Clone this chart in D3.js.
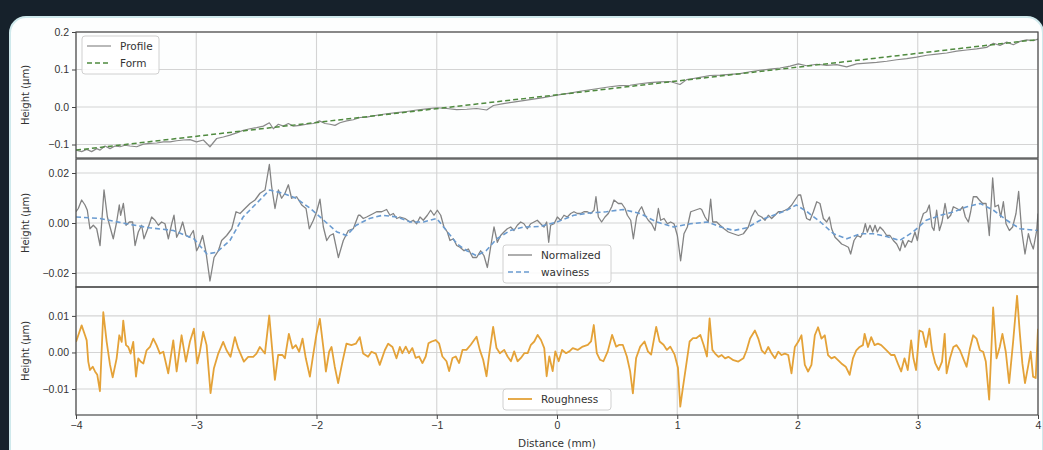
<!DOCTYPE html>
<html>
<head>
<meta charset="utf-8">
<script src="https://cdn.jsdelivr.net/npm/d3@7"></script>
<style>
  body { margin: 0; background: #16212b; }
  svg { display: block; font-family: "DejaVu Sans", sans-serif; }
</style>
</head>
<body>
<svg id="chart" width="1043" height="450"></svg>
<script>
// all points are [distance mm, height µm]

// Profile (top panel, grey)
const profile = [
  [-4.000, -0.115], [-3.953, -0.119], [-3.911, -0.113], [-3.870, -0.119], [-3.828, -0.111],
  [-3.800, -0.115], [-3.759, -0.104], [-3.717, -0.111], [-3.676, -0.104], [-3.634, -0.106],
  [-3.593, -0.102], [-3.551, -0.104], [-3.495, -0.106], [-3.440, -0.099], [-3.385, -0.097],
  [-3.329, -0.096], [-3.274, -0.093], [-3.218, -0.093], [-3.163, -0.090], [-3.107, -0.088],
  [-3.052, -0.087], [-2.997, -0.093], [-2.941, -0.088], [-2.886, -0.106], [-2.830, -0.084],
  [-2.775, -0.080], [-2.719, -0.075], [-2.664, -0.069], [-2.608, -0.062], [-2.553, -0.058],
  [-2.498, -0.055], [-2.442, -0.051], [-2.392, -0.042], [-2.359, -0.058], [-2.317, -0.046],
  [-2.276, -0.051], [-2.234, -0.044], [-2.193, -0.051], [-2.137, -0.049], [-2.082, -0.046],
  [-2.026, -0.044], [-1.976, -0.037], [-1.929, -0.044], [-1.888, -0.046], [-1.846, -0.049],
  [-1.805, -0.042], [-1.749, -0.037], [-1.694, -0.034], [-1.638, -0.028], [-1.583, -0.027],
  [-1.500, -0.022], [-1.417, -0.018], [-1.333, -0.015], [-1.250, -0.012], [-1.167, -0.008],
  [-1.084, -0.005], [-1.001, -0.002], [-0.918, -0.004], [-0.834, -0.007], [-0.751, -0.006],
  [-0.668, -0.004], [-0.585, -0.008], [-0.529, 0.004], [-0.446, 0.009], [-0.363, 0.013],
  [-0.280, 0.017], [-0.197, 0.021], [-0.114, 0.025], [-0.058, 0.028], [0.025, 0.033],
  [0.108, 0.037], [0.191, 0.042], [0.274, 0.046], [0.358, 0.050], [0.441, 0.054],
  [0.524, 0.057], [0.607, 0.058], [0.690, 0.062], [0.773, 0.065], [0.856, 0.067],
  [0.940, 0.068], [1.023, 0.060], [1.078, 0.073], [1.134, 0.076], [1.189, 0.079],
  [1.272, 0.084], [1.356, 0.085], [1.439, 0.087], [1.522, 0.089], [1.605, 0.094],
  [1.688, 0.098], [1.771, 0.101], [1.855, 0.104], [1.938, 0.109], [2.007, 0.115],
  [2.076, 0.110], [2.160, 0.114], [2.243, 0.111], [2.326, 0.113], [2.409, 0.107],
  [2.492, 0.115], [2.575, 0.117], [2.658, 0.119], [2.742, 0.122], [2.825, 0.126],
  [2.908, 0.129], [2.991, 0.133], [3.074, 0.138], [3.157, 0.141], [3.241, 0.144],
  [3.324, 0.149], [3.407, 0.152], [3.490, 0.155], [3.573, 0.159], [3.629, 0.170],
  [3.684, 0.164], [3.740, 0.173], [3.795, 0.166], [3.850, 0.175], [3.906, 0.179],
  [3.961, 0.177], [4.000, 0.181]
];

// Form (fitted straight line, dashed), its two ends
const formLine = [[-4, -0.115], [4, 0.180]];

// Normalized profile (middle panel, grey)
const normalized = [
  [-4.000, 0.0045], [-3.981, 0.0058], [-3.953, 0.0092], [-3.925, 0.0072], [-3.906, 0.0051],
  [-3.884, -0.0023], [-3.856, -0.0009], [-3.828, -0.0023], [-3.800, -0.0090], [-3.767, 0.0132],
  [-3.739, 0.0024], [-3.717, -0.0016], [-3.690, -0.0063], [-3.662, 0.0004], [-3.640, 0.0072],
  [-3.629, 0.0031], [-3.606, 0.0078], [-3.584, -0.0009], [-3.556, 0.0004], [-3.529, 0.0004],
  [-3.509, -0.0090], [-3.482, -0.0036], [-3.454, -0.0009], [-3.435, -0.0063], [-3.398, -0.0016],
  [-3.371, 0.0024], [-3.343, 0.0011], [-3.315, -0.0009], [-3.288, 0.0004], [-3.260, -0.0003],
  [-3.232, -0.0063], [-3.204, -0.0003], [-3.185, 0.0031], [-3.163, -0.0057], [-3.135, -0.0030],
  [-3.113, 0.0004], [-3.085, -0.0050], [-3.058, -0.0057], [-3.024, -0.0030], [-2.997, -0.0111],
  [-2.974, -0.0090], [-2.947, -0.0050], [-2.919, -0.0117], [-2.886, -0.0232], [-2.852, -0.0138],
  [-2.816, -0.0111], [-2.789, -0.0070], [-2.747, -0.0050], [-2.705, -0.0023], [-2.669, 0.0045],
  [-2.636, 0.0038], [-2.595, 0.0058], [-2.553, 0.0078], [-2.511, 0.0092], [-2.470, 0.0119],
  [-2.428, 0.0132], [-2.392, 0.0234], [-2.373, 0.0146], [-2.345, 0.0058], [-2.317, 0.0132],
  [-2.290, 0.0099], [-2.262, 0.0119], [-2.234, 0.0153], [-2.207, 0.0099], [-2.165, 0.0105],
  [-2.123, 0.0072], [-2.087, 0.0058], [-2.060, -0.0023], [-2.026, 0.0011], [-1.999, 0.0045],
  [-1.971, 0.0095], [-1.943, -0.0016], [-1.915, -0.0070], [-1.888, -0.0050], [-1.860, -0.0043],
  [-1.818, -0.0138], [-1.777, -0.0070], [-1.735, -0.0030], [-1.694, -0.0023], [-1.652, 0.0031],
  [-1.638, 0.0031], [-1.611, 0.0018], [-1.583, 0.0024], [-1.555, 0.0031], [-1.527, 0.0038],
  [-1.500, 0.0045], [-1.458, 0.0045], [-1.417, 0.0054], [-1.389, 0.0031], [-1.361, 0.0038],
  [-1.333, 0.0018], [-1.306, 0.0024], [-1.264, 0.0018], [-1.223, 0.0004], [-1.195, 0.0011],
  [-1.167, -0.0003], [-1.139, 0.0024], [-1.112, 0.0011], [-1.078, 0.0031], [-1.051, 0.0051],
  [-1.023, 0.0031], [-0.995, 0.0051], [-0.967, 0.0031], [-0.940, -0.0016], [-0.912, -0.0036],
  [-0.890, -0.0070], [-0.862, -0.0063], [-0.834, -0.0090], [-0.807, -0.0097], [-0.773, -0.0111],
  [-0.737, -0.0104], [-0.701, -0.0138], [-0.668, -0.0138], [-0.635, -0.0111], [-0.607, -0.0131],
  [-0.579, -0.0178], [-0.552, -0.0097], [-0.524, -0.0016], [-0.496, -0.0077], [-0.469, -0.0050],
  [-0.441, -0.0036], [-0.413, -0.0023], [-0.385, -0.0016], [-0.358, -0.0030], [-0.330, -0.0009],
  [-0.302, 0.0004], [-0.275, -0.0003], [-0.247, -0.0023], [-0.219, -0.0003], [-0.191, 0.0004],
  [-0.164, 0.0011], [-0.136, -0.0003], [-0.108, -0.0016], [-0.086, 0.0004], [-0.069, -0.0077],
  [-0.053, -0.0009], [-0.025, -0.0003], [0.003, 0.0024], [0.030, 0.0011], [0.058, 0.0031],
  [0.086, 0.0024], [0.114, 0.0038], [0.141, 0.0045], [0.169, 0.0038], [0.197, 0.0038],
  [0.224, 0.0045], [0.252, 0.0045], [0.280, 0.0038], [0.308, 0.0051], [0.324, 0.0105],
  [0.344, 0.0024], [0.371, 0.0004], [0.399, 0.0024], [0.427, 0.0038], [0.455, 0.0065],
  [0.474, 0.0092], [0.510, 0.0078], [0.538, 0.0078], [0.566, 0.0058], [0.585, 0.0031],
  [0.613, 0.0011], [0.635, -0.0063], [0.662, 0.0024], [0.685, 0.0051], [0.704, 0.0065],
  [0.732, 0.0031], [0.759, 0.0011], [0.787, -0.0003], [0.815, -0.0030], [0.843, 0.0058],
  [0.862, 0.0011], [0.890, 0.0018], [0.918, -0.0003], [0.945, 0.0004], [0.973, -0.0003],
  [1.001, -0.0050], [1.028, -0.0151], [1.056, -0.0043], [1.084, -0.0016], [1.112, 0.0045],
  [1.148, 0.0051], [1.189, 0.0058], [1.203, 0.0054], [1.231, 0.0024], [1.258, 0.0004],
  [1.278, 0.0095], [1.295, 0.0004], [1.328, 0.0004], [1.356, -0.0009], [1.389, -0.0023],
  [1.425, -0.0036], [1.466, -0.0043], [1.508, -0.0050], [1.550, -0.0043], [1.591, -0.0016],
  [1.619, 0.0024], [1.647, 0.0051], [1.674, 0.0031], [1.702, 0.0024], [1.730, 0.0011],
  [1.757, 0.0031], [1.785, 0.0018], [1.813, 0.0031], [1.841, 0.0045], [1.868, 0.0045],
  [1.896, 0.0051], [1.924, 0.0058], [1.952, 0.0072], [1.979, 0.0092], [2.007, 0.0112],
  [2.026, 0.0112], [2.049, 0.0065], [2.076, 0.0018], [2.104, 0.0011], [2.132, 0.0045],
  [2.160, 0.0085], [2.187, 0.0078], [2.215, 0.0018], [2.243, 0.0004], [2.265, 0.0024],
  [2.284, -0.0023], [2.312, -0.0057], [2.340, -0.0070], [2.367, -0.0084], [2.395, -0.0090],
  [2.423, -0.0097], [2.442, -0.0124], [2.470, -0.0070], [2.498, -0.0050], [2.525, -0.0057],
  [2.547, -0.0036], [2.564, -0.0003], [2.581, -0.0036], [2.603, -0.0009], [2.625, -0.0036],
  [2.645, -0.0009], [2.664, -0.0036], [2.686, -0.0016], [2.714, -0.0030], [2.742, -0.0050],
  [2.769, -0.0050], [2.797, -0.0070], [2.825, -0.0084], [2.852, -0.0111], [2.875, -0.0070],
  [2.894, -0.0097], [2.922, -0.0070], [2.949, -0.0077], [2.977, -0.0036], [2.997, -0.0070],
  [3.019, -0.0003], [3.047, 0.0038], [3.074, 0.0045], [3.096, 0.0072], [3.119, -0.0016],
  [3.135, -0.0030], [3.157, 0.0051], [3.180, -0.0030], [3.202, 0.0004], [3.227, 0.0078],
  [3.249, 0.0018], [3.274, 0.0031], [3.296, 0.0065], [3.324, 0.0058], [3.351, 0.0051],
  [3.374, 0.0065], [3.396, 0.0024], [3.421, 0.0004], [3.440, 0.0045], [3.462, 0.0105],
  [3.490, 0.0105], [3.512, 0.0092], [3.540, 0.0078], [3.568, 0.0078], [3.595, -0.0050],
  [3.623, 0.0180], [3.642, 0.0065], [3.670, 0.0072], [3.690, 0.0024], [3.712, 0.0085],
  [3.734, -0.0003], [3.762, -0.0030], [3.789, -0.0016], [3.817, 0.0038], [3.839, 0.0126],
  [3.864, -0.0030], [3.892, -0.0124], [3.920, -0.0043], [3.939, -0.0077], [3.961, -0.0104],
  [3.989, -0.0030], [4.000, 0.0038]
];

// Waviness (middle panel, dashed)
const waviness = [
  [-4.00, 0.0024], [-3.80, 0.0018], [-3.58, -0.0003], [-3.39, -0.0019], [-3.19, -0.0030],
  [-3.02, -0.0063], [-2.91, -0.0124], [-2.83, -0.0117], [-2.72, -0.0070], [-2.61, 0.0024],
  [-2.50, 0.0078], [-2.39, 0.0132], [-2.28, 0.0119], [-2.17, 0.0099], [-2.05, 0.0058],
  [-1.94, 0.0011], [-1.83, -0.0036], [-1.75, -0.0050], [-1.67, -0.0009], [-1.56, 0.0018],
  [-1.45, 0.0031], [-1.33, 0.0024], [-1.22, 0.0004], [-1.11, 0.0004], [-1.00, 0.0018],
  [-0.92, -0.0030], [-0.83, -0.0084], [-0.75, -0.0111], [-0.67, -0.0131], [-0.59, -0.0111],
  [-0.50, -0.0063], [-0.39, -0.0030], [-0.28, -0.0016], [-0.14, -0.0014], [0.00, 0.0004],
  [0.14, 0.0031], [0.27, 0.0040], [0.41, 0.0045], [0.55, 0.0054], [0.69, 0.0038],
  [0.83, 0.0004], [0.97, -0.0016], [1.11, -0.0003], [1.25, 0.0004], [1.36, -0.0016],
  [1.47, -0.0030], [1.58, -0.0019], [1.69, 0.0011], [1.80, 0.0031], [1.91, 0.0051],
  [1.99, 0.0072], [2.08, 0.0045], [2.19, 0.0004], [2.30, -0.0043], [2.41, -0.0063],
  [2.52, -0.0043], [2.63, -0.0043], [2.74, -0.0054], [2.85, -0.0070], [2.96, -0.0036],
  [3.07, 0.0011], [3.19, 0.0031], [3.30, 0.0045], [3.41, 0.0065], [3.52, 0.0078],
  [3.63, 0.0051], [3.74, 0.0011], [3.85, -0.0023], [4.00, -0.0030]
];

// Roughness (bottom panel)
const roughness = [
  [-4.000, 0.0029], [-3.981, 0.0047], [-3.953, 0.0074], [-3.925, 0.0047], [-3.911, 0.0033],
  [-3.898, -0.0025], [-3.884, -0.0048], [-3.861, -0.0039], [-3.842, -0.0052], [-3.823, -0.0061],
  [-3.801, -0.0106], [-3.773, 0.0110], [-3.745, 0.0029], [-3.717, -0.0034], [-3.695, -0.0068],
  [-3.662, -0.0016], [-3.640, 0.0047], [-3.620, 0.0029], [-3.607, 0.0087], [-3.584, 0.0020],
  [-3.565, 0.0015], [-3.546, -0.0003], [-3.524, 0.0029], [-3.501, -0.0066], [-3.482, -0.0016],
  [-3.463, -0.0025], [-3.440, -0.0030], [-3.413, 0.0006], [-3.385, 0.0015], [-3.357, 0.0038],
  [-3.330, 0.0020], [-3.302, -0.0003], [-3.274, 0.0002], [-3.233, -0.0057], [-3.191, 0.0033],
  [-3.163, -0.0052], [-3.122, 0.0047], [-3.086, -0.0025], [-3.053, 0.0029], [-3.019, 0.0065],
  [-2.992, -0.0030], [-2.970, 0.0002], [-2.942, 0.0056], [-2.914, 0.0020], [-2.881, -0.0111],
  [-2.853, -0.0043], [-2.817, -0.0003], [-2.776, 0.0029], [-2.748, 0.0006], [-2.715, -0.0012],
  [-2.679, 0.0042], [-2.651, 0.0011], [-2.604, -0.0025], [-2.568, -0.0012], [-2.526, -0.0012],
  [-2.499, -0.0003], [-2.471, 0.0015], [-2.429, -0.0003], [-2.393, 0.0101], [-2.374, 0.0029],
  [-2.346, -0.0075], [-2.319, -0.0007], [-2.283, -0.0007], [-2.263, -0.0016], [-2.230, 0.0051],
  [-2.199, 0.0011], [-2.172, 0.0020], [-2.144, 0.0002], [-2.116, 0.0038], [-2.089, -0.0016],
  [-2.055, -0.0066], [-2.028, -0.0007], [-2.000, 0.0051], [-1.972, 0.0092], [-1.939, 0.0002],
  [-1.922, -0.0052], [-1.895, 0.0002], [-1.875, 0.0015], [-1.848, -0.0039], [-1.820, -0.0084],
  [-1.784, -0.0025], [-1.751, 0.0024], [-1.709, 0.0020], [-1.673, 0.0024], [-1.640, 0.0042],
  [-1.612, -0.0003], [-1.571, -0.0012], [-1.543, 0.0002], [-1.507, -0.0003], [-1.474, -0.0034],
  [-1.432, 0.0006], [-1.404, 0.0024], [-1.368, 0.0015], [-1.335, -0.0016], [-1.307, 0.0015],
  [-1.286, -0.0002], [-1.258, 0.0016], [-1.231, -0.0002], [-1.203, 0.0012], [-1.175, -0.0015],
  [-1.147, -0.0011], [-1.119, -0.0029], [-1.092, -0.0011], [-1.069, 0.0025], [-1.042, 0.0030],
  [-1.008, 0.0034], [-0.981, 0.0025], [-0.953, -0.0011], [-0.919, -0.0024], [-0.897, -0.0051],
  [-0.869, -0.0015], [-0.842, -0.0011], [-0.814, -0.0029], [-0.786, 0.0007], [-0.753, 0.0007],
  [-0.717, 0.0021], [-0.689, 0.0034], [-0.669, 0.0043], [-0.642, 0.0007], [-0.614, -0.0020],
  [-0.586, -0.0065], [-0.564, -0.0006], [-0.531, 0.0070], [-0.503, 0.0012], [-0.475, -0.0002],
  [-0.439, 0.0007], [-0.411, -0.0011], [-0.383, -0.0024], [-0.356, 0.0003], [-0.328, -0.0024],
  [-0.300, -0.0015], [-0.272, -0.0002], [-0.244, -0.0002], [-0.217, 0.0021], [-0.189, 0.0030],
  [-0.161, 0.0048], [-0.133, 0.0034], [-0.106, 0.0012], [-0.086, -0.0065], [-0.064, -0.0011],
  [-0.036, -0.0051], [-0.014, 0.0003], [0.014, -0.0024], [0.042, 0.0007], [0.075, -0.0002],
  [0.103, 0.0003], [0.131, 0.0012], [0.172, 0.0007], [0.214, 0.0016], [0.256, 0.0021],
  [0.283, 0.0030], [0.306, 0.0075], [0.331, -0.0002], [0.358, -0.0020], [0.386, -0.0024],
  [0.422, 0.0003], [0.458, 0.0048], [0.492, 0.0016], [0.519, 0.0021], [0.547, 0.0021],
  [0.581, -0.0011], [0.608, -0.0051], [0.631, -0.0112], [0.658, -0.0015], [0.692, 0.0016],
  [0.728, 0.0030], [0.756, 0.0003], [0.783, -0.0006], [0.825, 0.0070], [0.853, 0.0030],
  [0.886, 0.0021], [0.914, 0.0007], [0.942, 0.0016], [0.978, -0.0006], [1.006, -0.0042],
  [1.025, -0.0148], [1.047, -0.0096], [1.075, -0.0033], [1.103, 0.0030], [1.131, 0.0039],
  [1.158, 0.0039], [1.192, 0.0048], [1.219, 0.0021], [1.247, -0.0011], [1.269, 0.0093],
  [1.292, 0.0007], [1.315, -0.0003], [1.343, -0.0012], [1.370, -0.0007], [1.398, -0.0016],
  [1.425, -0.0012], [1.467, -0.0021], [1.508, -0.0025], [1.550, -0.0016], [1.577, 0.0006],
  [1.605, 0.0038], [1.646, 0.0060], [1.674, 0.0038], [1.702, 0.0006], [1.729, -0.0003],
  [1.757, 0.0015], [1.785, -0.0003], [1.812, -0.0016], [1.840, 0.0002], [1.867, -0.0007],
  [1.895, -0.0003], [1.923, -0.0007], [1.950, -0.0057], [1.978, 0.0015], [2.006, 0.0029],
  [2.033, 0.0047], [2.061, -0.0034], [2.088, -0.0052], [2.116, -0.0034], [2.144, 0.0047],
  [2.171, 0.0069], [2.199, 0.0038], [2.227, 0.0047], [2.254, -0.0007], [2.282, -0.0016],
  [2.309, -0.0012], [2.337, -0.0021], [2.365, -0.0030], [2.401, -0.0039], [2.434, -0.0061],
  [2.461, -0.0016], [2.489, 0.0006], [2.517, 0.0015], [2.544, 0.0020], [2.558, 0.0051],
  [2.586, 0.0015], [2.613, 0.0042], [2.641, 0.0020], [2.669, 0.0024], [2.696, 0.0020],
  [2.724, 0.0011], [2.751, 0.0002], [2.779, -0.0007], [2.807, -0.0007], [2.834, -0.0030],
  [2.862, -0.0052], [2.890, -0.0016], [2.917, -0.0048], [2.945, 0.0033], [2.964, -0.0016],
  [2.986, -0.0048], [3.014, 0.0060], [3.041, 0.0056], [3.069, 0.0015], [3.097, 0.0065],
  [3.119, 0.0006], [3.146, -0.0030], [3.174, -0.0048], [3.202, -0.0025], [3.224, 0.0051],
  [3.240, -0.0057], [3.268, -0.0016], [3.296, 0.0015], [3.323, 0.0020], [3.351, 0.0006],
  [3.378, -0.0016], [3.406, -0.0039], [3.434, 0.0011], [3.461, 0.0047], [3.489, 0.0038],
  [3.517, 0.0006], [3.544, 0.0002], [3.566, -0.0025], [3.594, -0.0129], [3.627, 0.0123],
  [3.655, -0.0016], [3.682, 0.0015], [3.704, 0.0051], [3.732, 0.0002], [3.760, -0.0084],
  [3.793, 0.0029], [3.826, 0.0155], [3.848, 0.0056], [3.870, -0.0030], [3.892, -0.0084],
  [3.920, -0.0034], [3.939, 0.0002], [3.959, -0.0066], [3.981, -0.0070], [4.000, 0.0065]
];

// Axis ticks and labels
const xTicks = [-4, -3, -2, -1, 0, 1, 2, 3, 4];
const topTicks = [-0.1, 0.0, 0.1, 0.2];
const midTicks = [-0.02, 0.00, 0.02];
const lowTicks = [-0.01, 0.00, 0.01];
const yTitle = 'Height (µm)';
const xTitle = 'Distance (mm)';

const svg = d3.select('#chart');

// dark window frame and white card
svg.append('rect').attr('width', 1043).attr('height', 450).attr('fill', '#16212b');
svg.append('rect').attr('x', 10).attr('y', 17).attr('width', 1033).attr('height', 460)
  .attr('rx', 16).attr('fill', '#fdfefe').attr('stroke', '#cfe9ec').attr('stroke-width', 2);

const left = 76, right = 1038;
const x = d3.scaleLinear().domain([-4, 4]).range([left, right]);

const panels = [
  { top: 32, bottom: 158, domain: [-0.136, 0.2], ticks: topTicks, fmt: d3.format('.1f') },
  { top: 159, bottom: 287, domain: [-0.0256, 0.0256], ticks: midTicks, fmt: d3.format('.2f') },
  { top: 287, bottom: 415, domain: [-0.0171, 0.0179], ticks: lowTicks, fmt: d3.format('.2f') }
];

panels.forEach((p, i) => {
  p.y = d3.scaleLinear().domain(p.domain).range([p.bottom, p.top]);
  const g = svg.append('g');

  // grid
  g.selectAll('.hg').data(p.ticks).join('line')
    .attr('x1', left).attr('x2', right)
    .attr('y1', d => p.y(d)).attr('y2', d => p.y(d))
    .attr('stroke', '#d4d4d4').attr('stroke-width', 1.1);
  g.selectAll('.vg').data(xTicks).join('line')
    .attr('x1', d => x(d)).attr('x2', d => x(d))
    .attr('y1', p.top).attr('y2', p.bottom)
    .attr('stroke', '#d4d4d4').attr('stroke-width', 1.1);

  // y axis
  const ax = g.append('g').attr('transform', `translate(${left},0)`)
    .call(d3.axisLeft(p.y).tickValues(p.ticks).tickFormat(p.fmt).tickSize(4).tickPadding(3));
  ax.select('.domain').remove();
  ax.selectAll('line').attr('stroke', '#444');
  ax.selectAll('text').attr('font-size', 10.5).attr('fill', '#333');

  g.append('text')
    .attr('transform', `translate(29,${(p.top + p.bottom) / 2}) rotate(-90)`)
    .attr('text-anchor', 'middle').attr('font-size', 10).attr('fill', '#333')
    .text(yTitle);

  svg.append('clipPath').attr('id', 'clip' + i).append('rect')
    .attr('x', left).attr('y', p.top).attr('width', right - left).attr('height', p.bottom - p.top);
  p.plot = svg.append('g').attr('clip-path', `url(#clip${i})`);
});

function drawLine(p, data, color, width, dash) {
  p.plot.append('path').datum(data)
    .attr('d', d3.line().x(d => x(d[0])).y(d => p.y(d[1])))
    .attr('fill', 'none').attr('stroke', color).attr('stroke-width', width)
    .attr('stroke-linejoin', 'round')
    .attr('stroke-dasharray', dash || null);
}

const cProfile = '#8a8a8a', cForm = '#4f8a3f', cNorm = '#838383', cWav = '#6a9bd0', cRough = '#e4a238';

drawLine(panels[0], profile, cProfile, 1.2);
drawLine(panels[0], formLine, cForm, 1.5, '5,3');
drawLine(panels[1], normalized, cNorm, 1.3);
drawLine(panels[1], waviness, cWav, 1.6, '5,3');
drawLine(panels[2], roughness, cRough, 1.8);

// spines
panels.forEach(p => {
  svg.append('rect').attr('x', left).attr('y', p.top)
    .attr('width', right - left).attr('height', p.bottom - p.top)
    .attr('fill', 'none').attr('stroke', '#4a4a4a').attr('stroke-width', 1.2);
});

// x axis
const xa = svg.append('g').attr('transform', `translate(0,${panels[2].bottom})`)
  .call(d3.axisBottom(x).tickValues(xTicks).tickFormat(d3.format('d')).tickSize(4).tickPadding(3));
xa.select('.domain').remove();
xa.selectAll('line').attr('stroke', '#444');
xa.selectAll('text').attr('font-size', 10.5).attr('fill', '#333');
svg.append('text').attr('x', (left + right) / 2).attr('y', 447)
  .attr('text-anchor', 'middle').attr('font-size', 10.5).attr('fill', '#333').text(xTitle);

// legends
function legend(bx, by, w, items) {
  const g = svg.append('g').attr('transform', `translate(${bx},${by})`);
  g.append('rect').attr('width', w).attr('height', items.length * 17 + 4).attr('rx', 3)
    .attr('fill', 'white').attr('fill-opacity', 0.85).attr('stroke', '#d0d0d0');
  items.forEach((it, i) => {
    const cy = 10 + i * 17;
    g.append('line').attr('x1', 5).attr('x2', 29).attr('y1', cy).attr('y2', cy)
      .attr('stroke', it.color).attr('stroke-width', it.width).attr('stroke-dasharray', it.dash || null);
    g.append('text').attr('x', 38).attr('y', cy + 3.8).attr('font-size', 10.5).attr('fill', '#333').text(it.label);
  });
}
legend(82, 36, 77, [
  { label: 'Profile', color: cProfile, width: 1.2 },
  { label: 'Form', color: cForm, width: 1.5, dash: '5,3' }
]);
legend(503, 245, 108, [
  { label: 'Normalized', color: cNorm, width: 1.3 },
  { label: 'waviness', color: cWav, width: 1.6, dash: '5,3' }
]);
legend(503, 389, 108, [
  { label: 'Roughness', color: cRough, width: 1.8 }
]);
</script>
</body>
</html>
